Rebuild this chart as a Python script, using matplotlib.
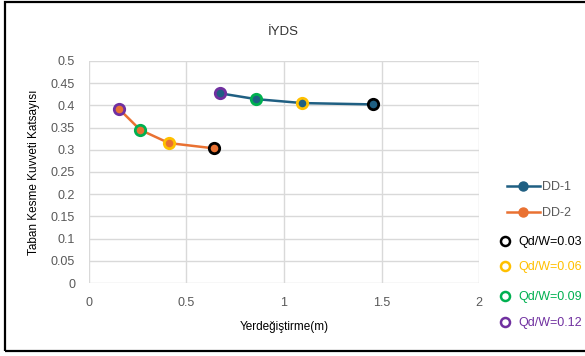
import matplotlib
matplotlib.use("Agg")
import matplotlib.pyplot as plt
from matplotlib.lines import Line2D
from matplotlib.patches import Rectangle

# displacement (m) and base shear coefficient, ordered Qd/W = 0.12, 0.09, 0.06, 0.03
dd1_x = [0.672, 0.855, 1.094, 1.458]
dd1_y = [0.427, 0.414, 0.405, 0.402]
dd2_x = [0.154, 0.262, 0.410, 0.643]
dd2_y = [0.392, 0.345, 0.315, 0.303]
qd_labels = ["Qd/W=0.12", "Qd/W=0.09", "Qd/W=0.06", "Qd/W=0.03"]
qd_colors = ["#7030A0", "#00B050", "#FFC000", "#000000"]

c_dd1 = "#1F5F82"
c_dd2 = "#E97132"
tick_col = "#595959"

plt.rcParams["font.family"] = ["Liberation Sans", "DejaVu Sans"]

W, H = 585, 356
fig = plt.figure(figsize=(W / 100, H / 100), dpi=100)
ax = fig.add_axes([0.152, 0.205, 0.667, 0.624])

for xs, ys, col in [(dd1_x, dd1_y, c_dd1), (dd2_x, dd2_y, c_dd2)]:
    ax.plot(xs, ys, color=col, lw=1.8, zorder=3)
    for x, y, ec in zip(xs, ys, qd_colors):
        ax.plot(x, y, marker="o", ms=7.5, mfc=col, mec=ec, mew=2.0, zorder=4)

ax.set_xlim(0, 2)
ax.set_ylim(0, 0.5)
ax.set_xticks([0, 0.5, 1, 1.5, 2])
ax.set_xticklabels(["0", "0.5", "1", "1.5", "2"])
ax.set_yticks([i * 0.05 for i in range(11)])
ax.set_yticklabels(["0", "0.05", "0.1", "0.15", "0.2", "0.25", "0.3",
                    "0.35", "0.4", "0.45", "0.5"])
ax.grid(True, color="#D9D9D9", lw=1.0)
ax.set_axisbelow(True)
for s in ax.spines.values():
    s.set_visible(False)
ax.tick_params(length=0, labelsize=9, colors=tick_col)
ax.tick_params(axis="y", pad=10)
ax.tick_params(axis="x", pad=10)

ax.set_xlabel("Yerdeğiştirme(m)", fontsize=8.5, labelpad=9)
ax.set_ylabel("Taban Kesme Kuvveti Katsayısı", fontsize=8.5, labelpad=8)
fig.text(0.485, 0.91, "İYDS", ha="center", va="center", fontsize=9.5, color="#333333")

# legend drawn by hand in pixel positions (line entries are wider than marker-only ones)
def px(x, y):
    return x / W, 1 - y / H

leg_rows = [186, 212]
for (lab, col), yy in zip([("DD-1", c_dd1), ("DD-2", c_dd2)], leg_rows):
    x0, y0 = px(507, yy)
    x1, _ = px(540, yy)
    xm, _ = px(523, yy)
    fig.add_artist(Line2D([x0, x1], [y0, y0], color=col, lw=1.8, transform=fig.transFigure))
    fig.add_artist(Line2D([xm], [y0], marker="o", ms=6.5, mfc=col, mec=col,
                          transform=fig.transFigure))
    tx, ty = px(542, yy + 1)
    fig.text(tx, ty, lab, ha="left", va="center", fontsize=9, color=tick_col)

qd_rows = [322, 296, 266, 241]
for lab, col, yy in zip(qd_labels, qd_colors, qd_rows):
    xm, y0 = px(505, yy)
    fig.add_artist(Line2D([xm], [y0], marker="o", ms=6.5, mfc="none", mec=col, mew=1.8,
                          transform=fig.transFigure))
    tx, ty = px(518, yy + 1)
    fig.text(tx, ty, lab, ha="left", va="center", fontsize=9, color=col)

# outer frame; its right side runs past the image edge
fig.patches.append(Rectangle((4.5 / W, 1 - 351 / H), 1.05, (351 - 2) / H,
                             transform=fig.transFigure, fill=False, ec="black", lw=1.6,
                             clip_on=False))

fig.savefig("out.png", dpi=100)
